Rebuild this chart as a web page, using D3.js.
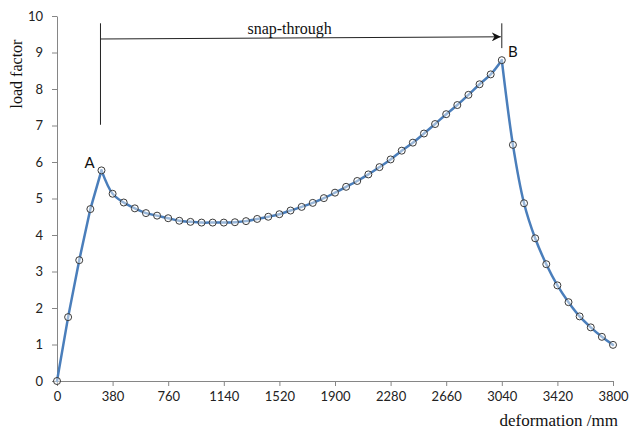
<!DOCTYPE html>
<meta charset="utf-8">
<html>
<head>
  <title>load factor vs deformation</title>
  <style>
    body { margin: 0; background: #fff; }
    .tick text { font-family: Lato, "Open Sans", sans-serif; font-size: 13px; fill: #222; }
    .serif { font-family: "Liberation Serif", "DejaVu Serif", serif; fill: #111; }
  </style>
</head>
<body>
<script src="https://d3js.org/d3.v7.min.js"></script>
<script>

// deformation step is 76 mm, 51 points
var deformation = [0, 76, 152, 228, 304, 380, 456, 532, 608, 684,
                   760, 836, 912, 988, 1064, 1140, 1216, 1292, 1368, 1444,
                   1520, 1596, 1672, 1748, 1824, 1900, 1976, 2052, 2128, 2204,
                   2280, 2356, 2432, 2508, 2584, 2660, 2736, 2812, 2888, 2964,
                   3040, 3116, 3192, 3268, 3344, 3420, 3496, 3572, 3648, 3724, 3800];
var loadFactor = [0, 1.75, 3.31, 4.71, 5.77, 5.13, 4.89, 4.73, 4.60, 4.53,
                  4.46, 4.39, 4.36, 4.34, 4.34, 4.34, 4.35, 4.38, 4.44, 4.50,
                  4.57, 4.67, 4.77, 4.88, 5.01, 5.16, 5.32, 5.48, 5.66, 5.86,
                  6.07, 6.31, 6.53, 6.78, 7.04, 7.31, 7.56, 7.84, 8.13, 8.40,
                  8.79, 6.47, 4.87, 3.91, 3.20, 2.62, 2.16, 1.77, 1.47, 1.21, 0.99];
var xTicks = [0, 380, 760, 1140, 1520, 1900, 2280, 2660, 3040, 3420, 3800];
var yTicks = [0, 1, 2, 3, 4, 5, 6, 7, 8, 9, 10];

var width = 629, height = 430;
var margin = {top: 16, right: 16, bottom: 49, left: 57};

var svg = d3.select("body").append("svg")
    .attr("width", width)
    .attr("height", height);

var x = d3.scaleLinear().domain([0, 3800]).range([margin.left, width - margin.right]);
var y = d3.scaleLinear().domain([0, 10]).range([height - margin.bottom, margin.top]);

var axisColor = "#868686";

// axes
var xAxis = svg.append("g")
    .attr("transform", "translate(0," + y(0) + ")")
    .call(d3.axisBottom(x).tickValues(xTicks).tickFormat(d3.format("d"))
      .tickSize(5).tickSizeOuter(0).tickPadding(6));
var yAxis = svg.append("g")
    .attr("transform", "translate(" + x(0) + ",0)")
    .call(d3.axisLeft(y).tickValues(yTicks).tickFormat(d3.format("d"))
      .tickSize(5).tickSizeOuter(0).tickPadding(9));
[xAxis, yAxis].forEach(function(a) {
  a.select(".domain").attr("stroke", axisColor);
  a.selectAll(".tick line").attr("stroke", axisColor);
});

// axis titles
svg.append("text")
    .attr("class", "serif")
    .attr("transform", "translate(22," + (margin.top + 58) + ") rotate(-90)")
    .attr("text-anchor", "middle")
    .style("font-size", "16px")
    .text("load factor");

svg.append("text")
    .attr("class", "serif")
    .attr("x", 618)
    .attr("y", 426)
    .attr("text-anchor", "end")
    .style("font-size", "17px")
    .text("deformation /mm");

// data
var pts = deformation.map(function(d, i) { return [d, loadFactor[i]]; });

var smooth = d3.line()
    .x(function(d) { return x(d[0]); })
    .y(function(d) { return y(d[1]); })
    .curve(d3.curveCatmullRom.alpha(0.5));
var straight = d3.line()
    .x(function(d) { return x(d[0]); })
    .y(function(d) { return y(d[1]); });

// linear climb to A, smooth branches after, sharp corners at A and B
var segs = [
  {p: pts.slice(0, 5), f: straight},
  {p: pts.slice(4, 41), f: smooth},
  {p: pts.slice(40), f: smooth}
];
svg.append("g").selectAll("path")
    .data(segs)
  .enter().append("path")
    .attr("d", function(s) { return s.f(s.p); })
    .attr("fill", "none")
    .attr("stroke", "#4a7ebb")
    .attr("stroke-width", 2.5)
    .attr("stroke-linejoin", "round")
    .attr("stroke-linecap", "round");

svg.append("g").selectAll("circle")
    .data(pts)
  .enter().append("circle")
    .attr("cx", function(d) { return x(d[0]); })
    .attr("cy", function(d) { return y(d[1]); })
    .attr("r", 3.5)
    .attr("fill", "rgba(255,255,255,0.45)")
    .attr("stroke", "#3a3a3a")
    .attr("stroke-width", 1);

// A / B labels
var A = pts[4], B = pts[40];
svg.append("text")
    .attr("x", x(A[0]) - 12)
    .attr("y", y(A[1]) - 2)
    .attr("text-anchor", "middle")
    .style("font-family", "Lato, 'Open Sans', sans-serif")
    .style("font-size", "15px")
    .attr("fill", "#111")
    .text("A");
svg.append("text")
    .attr("x", x(B[0]) + 11)
    .attr("y", y(B[1]) - 3)
    .attr("text-anchor", "middle")
    .style("font-family", "Lato, 'Open Sans', sans-serif")
    .style("font-size", "15px")
    .attr("fill", "#111")
    .text("B");

// snap-through annotation
var ann = svg.append("g").attr("stroke", "#222").attr("stroke-width", 1);
svg.append("defs").append("marker")
    .attr("id", "arrow")
    .attr("viewBox", "0 0 10 10")
    .attr("refX", 10).attr("refY", 5)
    .attr("markerWidth", 9).attr("markerHeight", 9)
    .attr("markerUnits", "userSpaceOnUse")
    .attr("orient", "auto")
  .append("path")
    .attr("d", "M0,0 L10,5 L0,10 L3,5 Z")
    .attr("fill", "#111");

ann.append("line")
    .attr("x1", x(A[0]) - 1).attr("x2", x(A[0]) - 1)
    .attr("y1", y(7.02)).attr("y2", y(9.8));
ann.append("line")
    .attr("x1", x(B[0])).attr("x2", x(B[0]))
    .attr("y1", y(9.12)).attr("y2", y(9.8));
ann.append("line")
    .attr("x1", x(A[0]) - 1).attr("y1", y(9.37))
    .attr("x2", x(B[0]) - 1).attr("y2", y(9.43))
    .attr("marker-end", "url(#arrow)");

svg.append("text")
    .attr("class", "serif")
    .attr("x", x(1590))
    .attr("y", y(9.52))
    .attr("text-anchor", "middle")
    .style("font-size", "16px")
    .text("snap-through");

</script>
</body>
</html>
